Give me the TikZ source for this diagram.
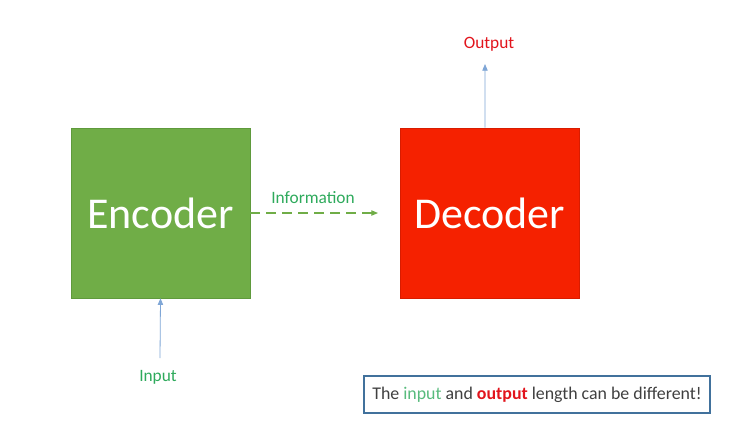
\documentclass[tikz,border=0pt]{standalone}
\usepackage{fontspec}
\setmainfont{Carlito}
\usetikzlibrary{calc}
\usetikzlibrary{positioning}
\usetikzlibrary{arrows.meta}

\definecolor{encgreen}{HTML}{70AD47}
\definecolor{encedge}{HTML}{5F9A3C}
\definecolor{decred}{HTML}{F52100}
\definecolor{decedge}{HTML}{D81C00}
\definecolor{labgreen}{HTML}{2EAA5C}
\definecolor{labred}{HTML}{E2141C}
\definecolor{flowblue}{HTML}{7FA6D6}
\definecolor{noteedge}{HTML}{41719C}
\definecolor{notegray}{HTML}{404040}

\tikzset{
  block/.style={minimum width=134.25pt, minimum height=127.5pt, inner sep=0pt,
    text=white, font=\fontsize{33}{36}\selectfont},
  flow/.style={->, draw=flowblue, line width=0.6pt},
  lab/.style={font=\fontsize{13}{15}\selectfont, inner sep=0pt}
}

\begin{document}
\begin{tikzpicture}[%
  >={Triangle[length=5pt,width=4pt]},
  x=0.75pt, y=-0.75pt
]

  \useasboundingbox[fill=white] (0,0) rectangle (731,430);

  % the two blocks
  \node[block, fill=encgreen, draw=encedge] (enc) at (160.5,213) {Encoder};
  \node[block, fill=decred, draw=decedge] (dec) at (489.5,213) {Decoder};

  % information passed on
  \coordinate (infoHead) at (378,213);
  \draw[->, draw=encgreen, dashed, dash pattern=on 7pt off 5pt, line width=0.8pt]
    (enc.east) -- (infoHead);
  \node[lab, text=labgreen] (info) at (313,198) {Information};

  % input and output
  \coordinate (inTail) at (160,358);
  \node[lab, text=labgreen] (in) at (158,377) {Input};
  \draw[flow] (inTail) -- (enc.south);

  \coordinate (outHead) at (485,64);
  \node[lab, text=labred] (out) at (489,44) {Output};
  \draw[flow] ([xshift=-3.4pt]dec.north) -- (outHead);

  % remark
  \node[draw=noteedge, line width=1.6pt, fill=white, minimum width=259.5pt,
    minimum height=27.75pt, text=notegray, font=\fontsize{13.4}{15}\selectfont]
    (note) at (537,394.5)
    {The \textcolor{labgreen!80!white}{input} and
     \textcolor{labred}{\textbf{output}} length can be different!};

\end{tikzpicture}
\end{document}
